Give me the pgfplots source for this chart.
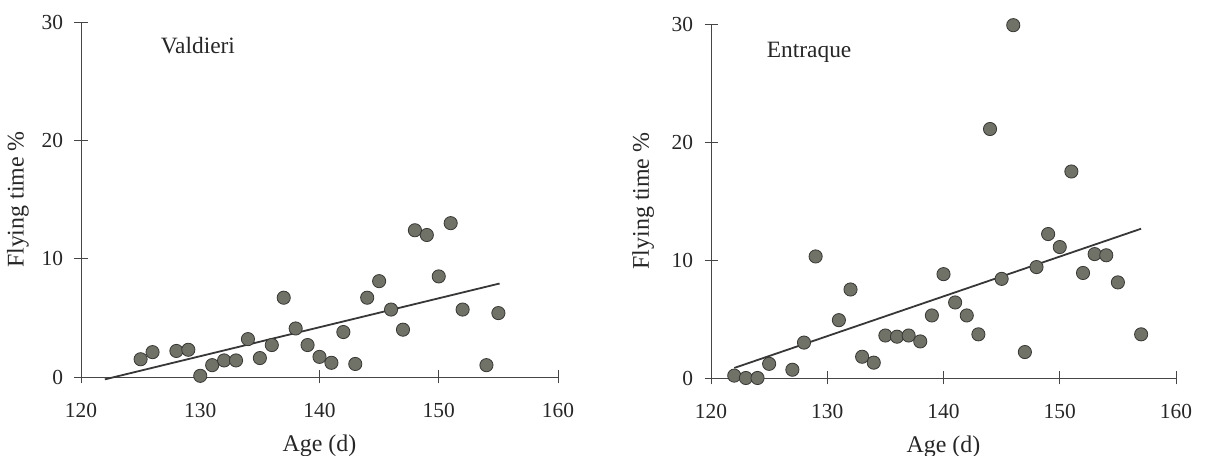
\documentclass[border=0pt]{standalone}
\usepackage{pgfplots}
\pgfplotsset{compat=1.18}
\usepackage{fontspec}
\setmainfont{Liberation Serif}
\definecolor{mfill}{RGB}{112,114,104}
\definecolor{mdraw}{RGB}{55,55,52}
\definecolor{lcol}{RGB}{55,55,55}
\definecolor{acol}{RGB}{70,70,70}
\pgfplotsset{
  panel/.style={
    scale only axis,
    axis lines=left,
    axis line style={-, acol, line width=0.9bp},
    xmin=120, xmax=160, ymin=0, ymax=30,
    xtick={120,130,140,150,160},
    ytick={0,10,20,30},
    tick align=center,
    major tick length=13bp,
    tick style={acol, line width=0.9bp},
    /pgf/number format/assume math mode=true,
    /pgf/number format/1000 sep={},
    tick label style={font=\fontsize{21.5}{24}\selectfont, text=black!85},
    label style={font=\fontsize{24}{26}\selectfont, text=black!85},
    xticklabel style={yshift=-16bp},
    yticklabel style={xshift=-8bp},
    clip=false,
    xlabel={Age (d)},
    ylabel={Flying time \%},
  },
  pts/.style={only marks, mark=*, mark size=6.6bp,
    mark options={fill=mfill, draw=mdraw, line width=0.8bp}},
  reg/.style={no marks, lcol, line width=1.8bp},
}
\begin{document}
\begin{tikzpicture}[x=1bp,y=1bp]
\useasboundingbox (0,0) rectangle (1205,456);
\begin{axis}[panel, at={(81bp,79bp)}, anchor=origin,
  width=477bp, height=355bp,
  xlabel style={at={(axis description cs:0.5,-0.193)}, anchor=center},
  ylabel style={at={(axis description cs:-0.132,0.5)}, anchor=center, rotate=0}]
\addplot[pts] coordinates {
(125,1.5) (126,2.1) (128,2.2) (129,2.3) (130,0.1) (131,1.0) (132,1.4) (133,1.4)
(134,3.2) (135,1.6) (136,2.7) (137,6.7) (138,4.1) (139,2.7) (140,1.7) (141,1.2)
(142,3.8) (143,1.1) (144,6.7) (145,8.1) (146,5.7) (147,4.0) (148,12.4) (149,12.0)
(150,8.5) (151,13.0) (152,5.7) (154,1.0) (155,5.4)
};
\addplot[reg] coordinates {(122,-0.2) (155.1,7.9)};
\node[anchor=west, font=\fontsize{23.5}{26}\selectfont, text=black!85] at (axis cs:126.4,28.0) {Valdieri};
\end{axis}
\begin{axis}[panel, at={(711bp,78bp)}, anchor=origin,
  width=465bp, height=354bp,
  xlabel style={at={(axis description cs:0.5,-0.193)}, anchor=center},
  ylabel style={at={(axis description cs:-0.146,0.5)}, anchor=center, rotate=0}]
\addplot[pts] coordinates {
(122,0.2) (123,0) (124,0) (125,1.2) (127,0.7) (128,3.0) (129,10.3) (131,4.9)
(132,7.5) (133,1.8) (134,1.3) (135,3.6) (136,3.5) (137,3.6) (138,3.1) (139,5.3)
(140,8.8) (141,6.4) (142,5.3) (143,3.7) (144,21.1) (145,8.4) (146,29.9) (147,2.2)
(148,9.4) (149,12.2) (150,11.1) (151,17.5) (152,8.9) (153,10.5) (154,10.4) (155,8.1)
(157,3.7)
};
\addplot[reg] coordinates {(122,0.85) (157,12.65)};
\node[anchor=west, font=\fontsize{23.5}{26}\selectfont, text=black!85] at (axis cs:124.5,27.6) {Entraque};
\end{axis}
\end{tikzpicture}
\end{document}
